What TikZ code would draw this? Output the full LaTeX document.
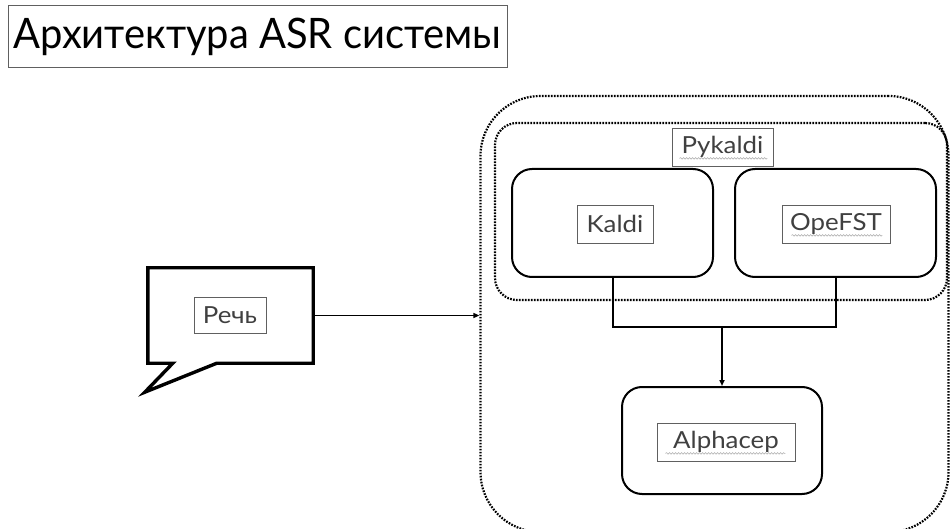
\documentclass[tikz,border=0pt]{standalone}
\usepackage{fontspec}
\setmainfont{Lato}[FakeStretch=1.1]
\newfontfamily\titlefont{Lato}[FakeStretch=0.95]
\usetikzlibrary{arrows.meta,decorations.pathmorphing,calc}
\definecolor{lblgray}{HTML}{404040}
\definecolor{boxgray}{HTML}{606060}
\tikzset{
  dotbox/.style={draw, line width=2.2pt, dash pattern=on 1.7pt off 1.3pt, rounded corners=#1, inner sep=0pt},
  solidbox/.style={draw, line width=2pt, rounded corners=20pt, inner sep=0pt},
  lbl/.style={draw=boxgray, line width=0.8pt, text=lblgray, font=\fontsize{23.5}{26}\selectfont, inner sep=0pt, minimum height=38pt},
  link/.style={line width=2pt},
  squig/.style={gray!70, line width=0.5pt, decorate, decoration={snake, amplitude=0.8pt, segment length=3pt}},
}
\begin{document}
\begin{tikzpicture}[x=1pt,y=-1pt]
\useasboundingbox (0,0) rectangle (950,529);
\fill[white] (0,0) rectangle (950,529);
% title
\node[draw=boxgray, line width=1pt, minimum width=499pt, minimum height=62pt, inner sep=0pt, font=\titlefont\fontsize{42}{46}\selectfont] (title) at (257.5,37) {Архитектура ASR системы};
% outer container
\begin{scope}
\clip (0,0) rectangle (950,529);
\node[dotbox=60pt, minimum width=468pt, minimum height=436pt] (outer) at (714.5,314) {};
\end{scope}
\node[dotbox=22pt, minimum width=452pt, minimum height=177pt] (pykbox) at (721,211.5) {};
\node[lbl, minimum width=101pt] (pyk) at (722.5,147) {Pykaldi};
% Kaldi / OpeFST
\node[solidbox, minimum width=201pt, minimum height=108pt] (kaldi) at (612.5,223) {};
\node[solidbox, minimum width=201pt, minimum height=108pt] (opefst) at (835.5,223) {};
\node[lbl, minimum width=76pt] (kaldilbl) at (615,224) {Kaldi};
\node[lbl, minimum width=108pt] (opelbl) at (836,224) {OpeFST};
% Alphacep
\node[solidbox, minimum width=200pt, minimum height=107pt] (alpha) at (722,440.5) {};
\node[lbl, minimum width=138pt] (alphalbl) at (726,442) {Alphacep};
% spell-check squiggles
\draw[squig] ($(pyk.south west)+(8,-8)$) -- ($(pyk.south east)+(-6,-8)$);
\draw[squig] ($(opelbl.south west)+(10,-8)$) -- ($(opelbl.south east)+(-8,-8)$);
\draw[squig] ($(alphalbl.south west)+(9,-8)$) -- ($(alphalbl.south east)+(-10,-8)$);
% connectors
\coordinate (merge) at (722,327);
\draw[link] (kaldi.south) |- (merge) -| (opefst.south);
\draw[link, -{Triangle[length=6pt,width=5pt]}] (merge) -- (alpha.north);
% speech bubble
\node[minimum width=165pt, minimum height=95pt, inner sep=0pt] (bubble) at (230.5,315.5) {};
\draw[line width=3.4pt, line join=miter]
  (bubble.north west) -- (bubble.north east) -- (bubble.south east)
  -- ($(bubble.south west)+(69,0)$) -- ($(bubble.south west)+(-3,29)$)
  -- ($(bubble.south west)+(25,0)$) -- (bubble.south west) -- cycle;
\node[lbl, minimum width=72pt, minimum height=36pt] (speech) at (230,315) {Речь};
\draw[line width=1.6pt, -{Triangle[length=6pt,width=5pt]}] (bubble.east) -- (bubble.east -| outer.west);
\end{tikzpicture}
\end{document}
